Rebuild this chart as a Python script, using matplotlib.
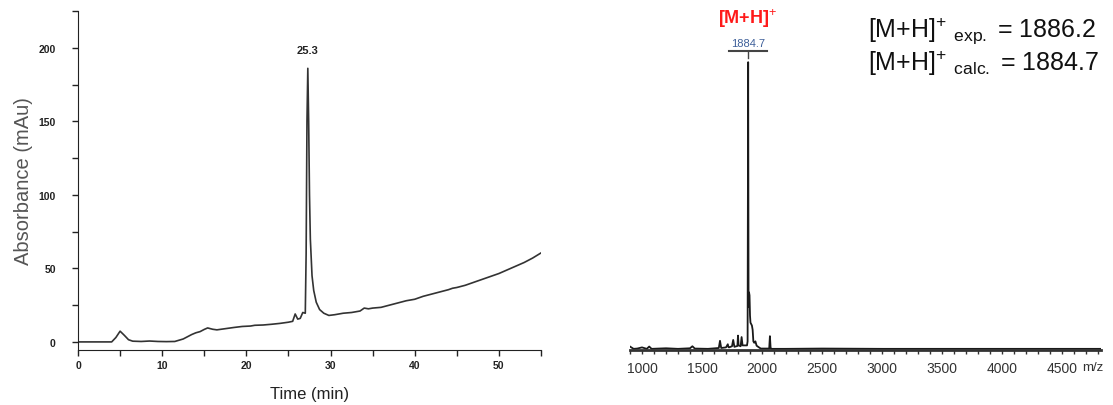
import numpy as np
import matplotlib.pyplot as plt
from matplotlib.ticker import MultipleLocator

plt.rcParams['font.family'] = ['Liberation Sans', 'DejaVu Sans']
plt.rcParams['mathtext.fontset'] = 'custom'
plt.rcParams['mathtext.rm'] = 'Liberation Sans'
plt.rcParams['mathtext.it'] = 'Liberation Sans:italic'

# HPLC trace (time in min, absorbance in mAu)
time = [0, 4.0, 4.5, 5.0, 5.5, 6.0, 6.5, 7.5, 8.5, 9.5,
        10.5, 11.5, 12.5, 13.5, 14.0, 14.5, 15.0, 15.4, 16.0, 16.5,
        17.5, 18.5, 19.5, 20.5, 21.0, 22.0, 23.0, 24.0, 25.0, 25.5,
        25.8, 26.1, 26.4, 26.7, 27.0, 27.1, 27.2, 27.3, 27.4, 27.5,
        27.6, 27.8, 28.0, 28.3, 28.7, 29.2, 29.8, 30.5, 31.5, 32.5,
        33.5, 34.0, 34.5, 35.0, 36.0, 37.0, 38.0, 39.0, 40.0, 41.0,
        42.0, 43.0, 44.0, 44.5, 45.0, 46.0, 47.0, 48.0, 49.0, 50.0,
        51.0, 52.0, 53.0, 54.0, 55.0]
absorb = [0, 0, 3, 7.3, 4.5, 1.5, 0.5, 0.3, 0.6, 0.3,
          0.2, 0.3, 2.0, 5.0, 6.2, 7.0, 8.5, 9.5, 8.6, 8.2,
          9.0, 9.8, 10.5, 10.8, 11.3, 11.5, 12.0, 12.6, 13.4, 14.0,
          19.0, 15.5, 16.0, 20.0, 19.5, 60, 150, 186, 150, 100,
          70, 45, 35, 27, 22, 19.5, 18.0, 18.5, 19.5, 20.0,
          21.0, 23.0, 22.5, 23.0, 23.5, 25.0, 26.5, 28.0, 29.0, 31.0,
          32.5, 34.0, 35.5, 36.5, 37.0, 38.5, 40.5, 42.5, 44.5, 46.5,
          49.0, 51.5, 54.0, 57.0, 60.5]
peak_time = 27.3
peak_label = '25.3'

# MALDI spectrum (m/z, relative intensity)
mz = [900, 930, 960, 1000, 1040, 1060, 1080, 1200, 1300, 1400,
      1420, 1440, 1550, 1640, 1650, 1660, 1700, 1715, 1720, 1725,
      1750, 1760, 1770, 1795, 1800, 1805, 1822, 1830, 1838, 1875,
      1880, 1884.7, 1888, 1892, 1896, 1900, 1904, 1910, 1916, 1922,
      1928, 1935, 1945, 1955, 1975, 1990, 2060, 2066, 2072, 2080,
      2200, 2500, 3000, 3500, 4000, 4500, 4825]
intensity = [1.2, 0.4, 0.5, 0.9, 0.4, 1.2, 0.4, 0.6, 0.4, 0.6,
             1.3, 0.5, 0.4, 0.7, 3.2, 0.7, 0.9, 2.0, 1.0, 0.9,
             1.3, 3.5, 1.1, 1.4, 5.0, 1.6, 1.3, 4.5, 1.6, 1.6,
             3.0, 100.0, 15.0, 20.0, 19.0, 12.0, 9.5, 9.0, 8.5, 7.0,
             3.0, 2.5, 3.0, 1.5, 0.9, 0.5, 0.5, 4.8, 0.5, 0.4,
             0.4, 0.5, 0.4, 0.4, 0.4, 0.4, 0.4]
main_mz = 1884.7
exp_mz = 1886.2

fig = plt.figure(figsize=(11.13, 4.06), dpi=100)

# ---- chromatogram ----
ax1 = fig.add_axes([78 / 1113, 1 - 351 / 406, 463 / 1113, 339 / 406])
ax1.plot(time, absorb, color='#333333', lw=1.2)
ax1.set_xlim(0, 55)
ax1.set_ylim(-5.5, 225)
ax1.spines[['top', 'right']].set_visible(False)
ax1.spines[['left', 'bottom']].set_color('#222222')
ax1.xaxis.set_major_locator(MultipleLocator(10))
ax1.xaxis.set_minor_locator(MultipleLocator(5))
ax1.yaxis.set_major_locator(MultipleLocator(50))
ax1.yaxis.set_minor_locator(MultipleLocator(25))
ax1.tick_params(which='both', direction='out', length=4, width=1, color='#222222')
ax1.tick_params(axis='y', pad=12)
ax1.tick_params(labelsize=7.5)
for lab in ax1.get_xticklabels() + ax1.get_yticklabels():
    lab.set_fontweight('bold')
    lab.set_color('#222222')
ax1.set_xlabel('Time (min)', fontsize=12, color='#222222', labelpad=11)
ax1.set_ylabel('Absorbance (mAu)', fontsize=14.5, color='#555555', labelpad=4)
ax1.text(peak_time, max(absorb) + 9, peak_label, ha='center', va='bottom',
         fontsize=8, fontweight='bold', color='#222222')

# ---- mass spectrum ----
ax2 = fig.add_axes([630 / 1113, 1 - 351 / 406, 471 / 1113, 331 / 406])
ax2.plot(mz, intensity, color='#1a1a1a', lw=1.3)
ax2.set_xlim(900, 4825)
ax2.set_ylim(0, 115)
ax2.spines[['top', 'right', 'left']].set_visible(False)
ax2.spines['bottom'].set_linewidth(2)
ax2.spines['bottom'].set_color('#333333')
ax2.set_yticks([])
ax2.set_xticks(np.arange(1000, 4501, 500))
ax2.xaxis.set_minor_locator(MultipleLocator(100))
ax2.tick_params(which='both', direction='out', length=3, width=1, color='#333333')
ax2.tick_params(labelsize=10, pad=5, labelcolor='#333333')
ax2.text(1.005, -0.05, 'm/z', transform=ax2.transAxes, ha='right', va='center',
         fontsize=9.5, color='#333333')

# peak annotation
ax2.plot([main_mz - 160, main_mz + 160], [104, 104], color='#444444', lw=1.5)
ax2.plot([main_mz, main_mz], [104, 101.5], color='#444444', lw=1)
ax2.text(main_mz, 104.8, f'{main_mz:.1f}', ha='center', va='bottom',
         fontsize=8, color='#3d5f99')
ax2.text(main_mz, 115.3, r'[M+H]$^{+}$', ha='center', va='center',
         fontsize=13, fontweight='bold', color='#ff1a1a')

fig.text(868 / 1113, 1 - 30 / 406, r'[M+H]$^{+}\ {}_{\mathrm{exp.}}$ = ' + f'{exp_mz:.1f}',
         ha='left', va='center', fontsize=18, color='#111111')
fig.text(868 / 1113, 1 - 63 / 406, r'[M+H]$^{+}\ {}_{\mathrm{calc.}}$ = ' + f'{main_mz:.1f}',
         ha='left', va='center', fontsize=18, color='#111111')

fig.savefig('out.png', dpi=100)
